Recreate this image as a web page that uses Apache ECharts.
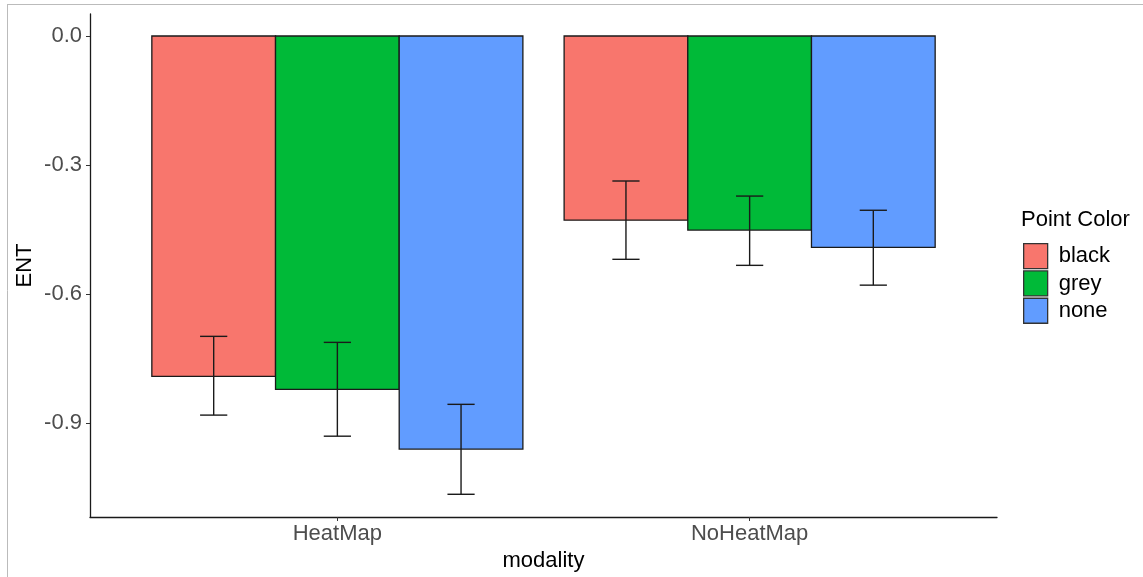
<!DOCTYPE html>
<html>
<head>
<meta charset="utf-8">
<script src="https://cdn.jsdelivr.net/npm/echarts@6/dist/echarts.min.js"></script>
<style>html,body{margin:0;padding:0;background:#fff;}#c{width:1143px;height:577px;}</style>
</head>
<body>
<div id="c"></div>
<script>
var categories = ['HeatMap', 'NoHeatMap'];
var groups = ['black', 'grey', 'none'];
var colors = ['#F8766D', '#00BA38', '#619CFF'];
var ent_black = [-0.791, -0.428];
var ent_grey = [-0.821, -0.451];
var ent_none = [-0.960, -0.491];
var lo_black = [-0.881, -0.519];
var hi_black = [-0.698, -0.337];
var lo_grey = [-0.930, -0.533];
var hi_grey = [-0.712, -0.372];
var lo_none = [-1.065, -0.579];
var hi_none = [-0.856, -0.405];
var yTicks = [0, -0.3, -0.6, -0.9];

var values = [ent_black, ent_grey, ent_none];
var los = [lo_black, lo_grey, lo_none];
var his = [hi_black, hi_grey, hi_none];
var barW = 0.3;

function makeSeries(k) {
  var data = categories.map(function (c, i) {
    return [i + 1 + (k - 1) * barW, values[k][i], los[k][i], his[k][i]];
  });
  return {
    name: groups[k],
    type: 'custom',
    itemStyle: { color: colors[k], borderColor: '#1a1a1a', borderWidth: 1.3 },
    data: data,
    encode: { x: 0, y: [1, 2, 3] },
    renderItem: function (params, api) {
      var x = api.value(0), v = api.value(1), lo = api.value(2), hi = api.value(3);
      var p0 = api.coord([x - barW / 2, 0]);
      var p1 = api.coord([x + barW / 2, v]);
      var cL = api.coord([x - 0.033, lo]);
      var cR = api.coord([x + 0.033, hi]);
      var cx = api.coord([x, 0])[0];
      var lineStyle = { stroke: '#1a1a1a', lineWidth: 1.4 };
      return {
        type: 'group',
        children: [
          { type: 'rect', shape: { x: p0[0], y: p0[1], width: p1[0] - p0[0], height: p1[1] - p0[1] },
            style: { fill: colors[k], stroke: '#1a1a1a', lineWidth: 1.3 } },
          { type: 'line', shape: { x1: cx, y1: cL[1], x2: cx, y2: cR[1] }, style: lineStyle },
          { type: 'line', shape: { x1: cL[0], y1: cL[1], x2: cR[0], y2: cL[1] }, style: lineStyle },
          { type: 'line', shape: { x1: cL[0], y1: cR[1], x2: cR[0], y2: cR[1] }, style: lineStyle }
        ]
      };
    }
  };
}

var chart = echarts.init(document.getElementById('c'), null, { renderer: 'canvas' });
chart.setOption({
  animation: false,
  backgroundColor: '#fff',
  grid: { left: 90, right: 146, top: 14, bottom: 60 },
  xAxis: {
    type: 'value', min: 0.4, max: 2.6,
    splitLine: { show: false },
    axisLine: { show: true, onZero: false, lineStyle: { color: '#1a1a1a', width: 1.3 } },
    axisTick: { show: true, customValues: [1, 2], length: 4, lineStyle: { color: '#333' } },
    axisLabel: { customValues: [1, 2], formatter: function (v) { return categories[Math.round(v) - 1] || ''; },
      color: '#4d4d4d', fontSize: 22, fontFamily: 'Liberation Sans', margin: 6 },
    name: 'modality', nameLocation: 'middle', nameGap: 33,
    nameTextStyle: { color: '#000', fontSize: 22, fontFamily: 'Liberation Sans' }
  },
  yAxis: {
    type: 'value', min: -1.1178, max: 0.0511,
    splitLine: { show: false },
    axisLine: { show: true, onZero: false, lineStyle: { color: '#1a1a1a', width: 1.3 } },
    axisTick: { show: true, customValues: yTicks, length: 4, lineStyle: { color: '#333' } },
    axisLabel: { customValues: yTicks, formatter: function (v) { return v.toFixed(1); },
      color: '#4d4d4d', fontSize: 22, fontFamily: 'Liberation Sans', margin: 8 },
    name: 'ENT', nameLocation: 'middle', nameGap: 54, nameRotate: 90, nameMoveOverlap: false,
    nameTextStyle: { color: '#000', fontSize: 22, fontFamily: 'Liberation Sans' }
  },
  legend: {
    orient: 'vertical', left: 1023, top: 243, padding: 0,
    itemWidth: 24, itemHeight: 25, itemGap: 1,
    icon: 'rect',
    textStyle: { color: '#000', fontSize: 22, fontFamily: 'Liberation Sans', padding: [0, 0, 0, 6] },
    data: groups.map(function (g, k) {
      return { name: g, itemStyle: { color: colors[k], borderColor: '#333', borderWidth: 1.3 } };
    })
  },
  graphic: [
    { type: 'text', left: 1021, top: 209, style: { text: 'Point Color', fill: '#000', fontSize: 22, fontFamily: 'Liberation Sans' } },
    { type: 'line', shape: { x1: 7, y1: 4.5, x2: 1143, y2: 4.5 }, style: { stroke: '#bbb', lineWidth: 1 } },
    { type: 'line', shape: { x1: 7.5, y1: 4, x2: 7.5, y2: 577 }, style: { stroke: '#bbb', lineWidth: 1 } }
  ],
  series: [makeSeries(0), makeSeries(1), makeSeries(2)]
});
</script>
</body>
</html>
